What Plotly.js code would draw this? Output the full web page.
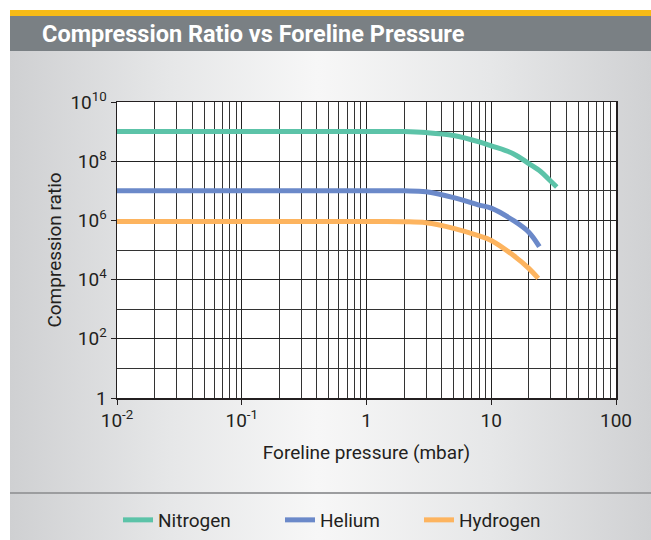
<!DOCTYPE html>
<html>
<head>
<meta charset="utf-8">
<script src="https://cdn.plot.ly/plotly-3.0.1.min.js"></script>
<style>
  html, body { margin: 0; padding: 0; background: #ffffff; }
  #wrap { position: relative; width: 651px; height: 540px; overflow: hidden; }
  #panel { position: absolute; left: 10px; top: 10px; width: 641px; height: 530px;
    background: linear-gradient(to right, #cfd0d2 0%, #e6e7e8 25%, #f7f7f7 48%, #e6e7e8 75%, #d0d1d3 100%); }
  #yellow { position: absolute; left: 10px; top: 10px; width: 641px; height: 6px; background: #f7bb16; }
  #titlebar { position: absolute; left: 10px; top: 16px; width: 641px; height: 35px; background: #7a8084; }
  #sep { position: absolute; left: 10px; top: 492px; width: 641px; height: 2px; background: #9c9d9f; }
  #chart { position: absolute; left: 0; top: 0; width: 651px; height: 540px; }
</style>
</head>
<body>
<div id="wrap">
  <div id="panel"></div>
  <div id="yellow"></div>
  <div id="titlebar"></div>
  <div id="sep"></div>
  <div id="chart"></div>
</div>
<script>
// Data
const nitrogenP  = [0.01, 1, 2, 3, 5, 8, 10, 15, 20, 25, 30, 33.5];
const nitrogenCR = [1e9, 1e9, 1e9, 9.3e8, 7.4e8, 4.5e8, 3.3e8, 1.8e8, 8.3e7, 4.4e7, 2.1e7, 1.35e7];

const heliumP  = [0.01, 1, 2, 3, 5, 8, 10, 15, 20, 24.3];
const heliumCR = [1e7, 1e7, 1e7, 9.3e6, 5.9e6, 3.3e6, 2.6e6, 1.0e6, 4.0e5, 1.3e5];

const hydrogenP  = [0.01, 1, 2, 3, 5, 8, 10, 15, 20, 23.8];
const hydrogenCR = [9.1e5, 9.1e5, 9.0e5, 8.3e5, 5.4e5, 3.0e5, 2.1e5, 6.6e4, 2.4e4, 1.1e4];

const seriesNames = ['Nitrogen', 'Helium', 'Hydrogen'];
const seriesColors = ['#5cc3a8', '#6b89c9', '#fdb45f'];

const xTickVals = [0.01, 0.1, 1, 10, 100];
const xTickText = ['10<sup>-2</sup>', '10<sup>-1</sup>', '1', '10', '100'];
const yTickVals = [1, 1e2, 1e4, 1e6, 1e8, 1e10];
const yTickText = ['1', '10<sup>2</sup>', '10<sup>4</sup>', '10<sup>6</sup>', '10<sup>8</sup>', '10<sup>10</sup>'];
const yMinorVals = [10, 1e3, 1e5, 1e7, 1e9];

const xMinorVals = [];
[0.01, 0.1, 1, 10].forEach(function (d) {
  for (let k = 2; k <= 9; k++) xMinorVals.push(d * k);
});

const FONT = 'Roboto, "Liberation Sans", sans-serif';
const TXT = '#231f20';
function f(size, color, weight) {
  return { family: FONT, size: size, color: color || TXT, weight: weight || 'normal' };
}

const xs = [nitrogenP, heliumP, hydrogenP];
const ys = [nitrogenCR, heliumCR, hydrogenCR];
const legendIds = ['legend', 'legend2', 'legend3'];
const traces = seriesNames.map(function (n, i) {
  return {
    x: xs[i], y: ys[i], name: n, type: 'scatter', mode: 'lines',
    line: { color: seriesColors[i], width: 5, shape: 'spline', smoothing: 1 },
    legend: legendIds[i],
    hoverinfo: 'skip'
  };
});

// legend left edges (px) for each series item
const legendLeft = [118, 280, 419];
function legendAt(px) {
  return {
    orientation: 'h', xref: 'container', yref: 'container',
    x: px / 651, xanchor: 'left', y: 1 - 520 / 540, yanchor: 'middle',
    font: f(19), bgcolor: 'rgba(0,0,0,0)', borderwidth: 0
  };
}

const layout = {
  width: 651, height: 540,
  paper_bgcolor: 'rgba(0,0,0,0)',
  plot_bgcolor: '#ffffff',
  margin: { l: 117, r: 35, t: 102, b: 142, pad: 0 },
  font: f(19),
  title: {
    text: 'Compression Ratio vs Foreline Pressure',
    x: 42 / 651, xref: 'container', xanchor: 'left',
    y: 1 - 34 / 540, yref: 'container', yanchor: 'middle',
    font: f(23.5, '#ffffff', 'bold')
  },
  showlegend: true,
  legend: legendAt(legendLeft[0]),
  legend2: legendAt(legendLeft[1]),
  legend3: legendAt(legendLeft[2]),
  xaxis: {
    type: 'log', range: [-2, 2],
    tickmode: 'array', tickvals: xTickVals, ticktext: xTickText,
    ticks: 'outside', ticklen: 5, tickcolor: '#231f20', tickwidth: 1,
    showgrid: true, gridcolor: '#222222', gridwidth: 1,
    showline: true, linecolor: '#231f20', linewidth: 1.5, mirror: true,
    zeroline: false,
    tickfont: f(19),
    minor: { tickmode: 'array', tickvals: xMinorVals, showgrid: true, gridcolor: '#333333', gridwidth: 1, ticks: '' },
    title: { text: 'Foreline pressure (mbar)', font: f(19), standoff: 14 },
    automargin: false
  },
  yaxis: {
    type: 'log', range: [0, 10],
    tickmode: 'array', tickvals: yTickVals, ticktext: yTickText,
    ticks: 'outside', ticklen: 5, tickcolor: '#231f20', tickwidth: 1,
    showgrid: true, gridcolor: '#222222', gridwidth: 1,
    showline: true, linecolor: '#231f20', linewidth: 1.5, mirror: true,
    zeroline: false,
    tickfont: f(19),
    minor: { tickmode: 'array', tickvals: yMinorVals, showgrid: true, gridcolor: '#333333', gridwidth: 1, ticks: '' },
    title: { text: 'Compression ratio', font: f(19), standoff: 3 },
    automargin: false
  }
};

Plotly.newPlot('chart', traces, layout, { displayModeBar: false, staticPlot: true });
</script>
</body>
</html>
